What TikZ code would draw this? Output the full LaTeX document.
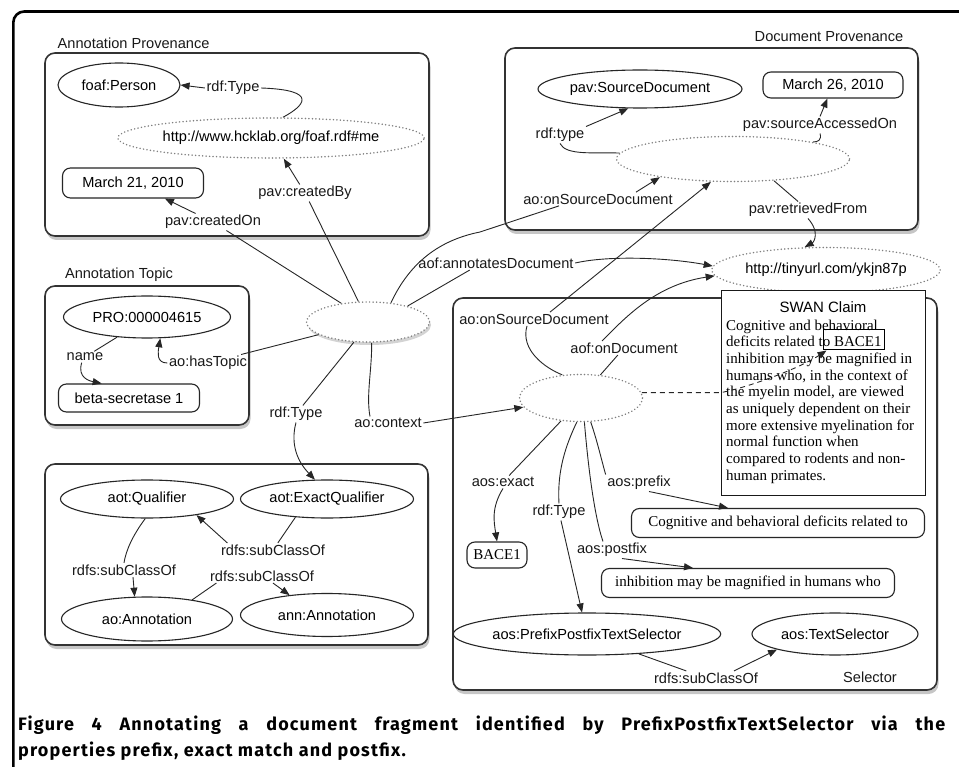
\documentclass[tikz,border=0pt]{standalone}
\usepackage{fontspec}
\setmainfont{Liberation Sans}
\newfontfamily\srf{Liberation Serif}
\newfontfamily\capf[LetterSpace=6.5]{Fira Sans}
\usetikzlibrary{shapes.geometric,arrows.meta,shadows,calc}
\begin{document}
\begin{tikzpicture}[x=1pt,y=-1pt,
  lbl/.style={font=\fontsize{14.6}{17}\selectfont, inner sep=1.5pt, text=black!90},
  grp/.style={draw=black!80, line width=1.6pt, rounded corners=10pt, fill=white, inner sep=0pt,
     drop shadow={shadow xshift=1.5pt,shadow yshift=-4pt,opacity=0.45}},
  cls/.style={ellipse, draw=black!85, line width=1.1pt, inner sep=0pt, fill=white, font=\fontsize{14.6}{17}\selectfont},
  inst/.style={ellipse, draw=black!50, line width=1.6pt, dash pattern=on 0.1pt off 3.4pt, line cap=round, inner sep=0pt, fill=white, font=\fontsize{14.6}{17}\selectfont},
  lit/.style={draw=black!85, line width=1.1pt, rounded corners=8pt, inner sep=0pt, fill=white, font=\fontsize{14.6}{17}\selectfont},
  litsrf/.style={lit, font=\srf\fontsize{15}{17}\selectfont},
  con/.style={line width=0.9pt, draw=black!85},
  arr/.style={con, -{Triangle[length=9pt,width=7pt]}},
]
\useasboundingbox (0,0) rectangle (959,767);
% outer frame
\draw[line width=2.6pt, rounded corners=11pt] (975,11.5) -- (13.3,11.5) -- (13.3,790);

% group boxes
\node[grp, minimum width=384pt, minimum height=183pt] (apbox) at (237,144.5) {};
\node[grp, minimum width=413pt, minimum height=182pt] (dpbox) at (711.5,139) {};
\node[grp, minimum width=204pt, minimum height=139pt] (atbox) at (147,355.5) {};
\node[grp, minimum width=383pt, minimum height=181pt] (clbox) at (236.5,554.5) {};
\node[grp, minimum width=484pt, minimum height=392pt] (selbox) at (695,494) {};

% titles
\node[lbl, anchor=west] (aptitle) at (56,43) {Annotation Provenance};
\node[lbl] (dptitle) at (829,37) {Document Provenance};
\node[lbl] (attitle) at (119,275) {Annotation Topic};
\node[lbl] (seltitle) at (870,677) {Selector};

% annotation provenance
\node[cls, minimum width=122pt, minimum height=44pt] (foafP) at (119,85) {foaf:Person};
\node[inst, minimum width=297pt, minimum height=40pt] (hck) at (271,138) {http://www.hcklab.org/foaf.rdf\#me};
\node[lit, minimum width=141pt, minimum height=30pt] (mar21) at (133,183) {March 21, 2010};
\node[lbl] (lrdf1) at (233,88) {rdf:Type};
\node[lbl] (lcby) at (305,193) {pav:createdBy};
\node[lbl] (lcon) at (213,222) {pav:createdOn};

% document provenance
\node[cls, minimum width=204pt, minimum height=38pt] (psd) at (640,89) {pav:SourceDocument};
\node[lit, minimum width=140pt, minimum height=26pt] (mar26) at (833,85) {March 26, 2010};
\node[inst, minimum width=233pt, minimum height=45pt] (srcdoc) at (733,159) {};
\node[lbl] (lrdf2) at (560,135) {rdf:type};
\node[lbl] (lsacc) at (820,125) {pav:sourceAccessedOn};
\node[lbl] (lsrc1) at (598,199) {ao:onSourceDocument};
\node[lbl] (lretr) at (808,210) {pav:retrievedFrom};

% annotation topic
\node[cls, minimum width=167pt, minimum height=42pt] (pro) at (147,317) {PRO:000004615};
\node[lit, minimum width=141pt, minimum height=28pt] (beta) at (129,398) {beta-secretase 1};
\node[lbl] (lname) at (85,357) {name};
\node[lbl] (lhas) at (208,363) {ao:hasTopic};

% central annotation
\node[inst, minimum width=123pt, minimum height=40pt, drop shadow={shadow xshift=1.5pt,shadow yshift=-3pt,opacity=0.35}] (ann) at (368,322) {};
\node[lbl] (lrdf3) at (296,414) {rdf:Type};
\node[lbl] (lctx) at (388,423) {ao:context};
\node[lbl] (lannd) at (496,263) {aof:annotatesDocument};

% class hierarchy
\node[cls, minimum width=173pt, minimum height=38pt] (aotQ) at (147,499) {aot:Qualifier};
\node[cls, minimum width=173pt, minimum height=38pt] (aotEQ) at (327,499) {aot:ExactQualifier};
\node[cls, minimum width=171pt, minimum height=44pt] (aoA) at (147,619) {ao:Annotation};
\node[cls, minimum width=173pt, minimum height=43pt] (annA) at (327,615) {ann:Annotation};
\node[lbl] (lsub1) at (273,550) {rdfs:subClassOf};
\node[lbl] (lsub2) at (124,570) {rdfs:subClassOf};
\node[lbl] (lsub3) at (262,576) {rdfs:subClassOf};

% selector
\node[inst, minimum width=222pt, minimum height=45pt] (tiny) at (826,270) {http://tinyurl.com/ykjn87p};
\node[inst, minimum width=123pt, minimum height=47pt] (ctx) at (581,398) {};
\node[draw=black!90, line width=1pt, fill=white, minimum width=204pt, minimum height=204pt, inner sep=0pt] (swan) at (823,393) {};
\node[font=\fontsize{15}{17}\selectfont, inner sep=0pt] (swant) at (823,307) {SWAN Claim};
\node[anchor=north west, inner sep=0pt, align=left, font=\srf\fontsize{15}{16.67}\selectfont] (swanp) at (726,319.5)
 {Cognitive and behavioral\\deficits related to BACE1\\inhibition may be magnified in\\humans who, in the context of\\the myelin model, are viewed\\as uniquely dependent on their\\more extensive myelination for\\normal function when\\compared to rodents and non-\\human primates.};
\node[draw=black, line width=1pt, minimum width=61pt, minimum height=20pt, inner sep=0pt] (bacebox) at (853.5,340) {};
\node[lbl] (lsrc2) at (534,319) {ao:onSourceDocument};
\node[lbl] (londoc) at (624,348) {aof:onDocument};
\node[lbl] (lexact) at (503,482) {aos:exact};
\node[litsrf, minimum width=60pt, minimum height=26pt] (bace1) at (497,555) {BACE1};
\node[lbl] (lrdf4) at (559,512) {rdf:Type};
\node[lbl] (lprefix) at (639,483) {aos:prefix};
\node[lbl] (lpostfix) at (612,550) {aos:postfix};
\node[litsrf, minimum width=293pt, minimum height=29pt] (cog) at (778,523) {Cognitive and behavioral deficits related to};
\node[litsrf, minimum width=293pt, minimum height=29pt] (inh) at (748,583) {inhibition may be magnified in humans who};
\node[cls, minimum width=264pt, minimum height=42pt] (ppts) at (587,634) {aos:PrefixPostfixTextSelector};
\node[cls, minimum width=166pt, minimum height=42pt] (ts) at (835,634) {aos:TextSelector};
\node[lbl] (lsub4) at (706,678) {rdfs:subClassOf};

% ---- connectors ----
% annotation provenance
\draw[con] (hck.60) .. controls (304,106) and (320,90) .. (lrdf1.east);
\draw[arr] (lrdf1.west) -- (foafP.east);
\draw[con] (ann.115) -- (lcby);
\draw[arr] (lcby) -- (hck);
\draw[con] (ann.145) -- (lcon);
\draw[arr] (lcon) -- (mar21);
% central
\draw[con] (ann.40) .. controls (410,262) and (440,240) .. (480,232) -- (lsrc1.-170);
\draw[arr] ([xshift=38pt]lsrc1.north) -- (srcdoc.-166);
\draw[con] (ann.22) -- (lannd.-165);
\draw[arr] (lannd.east) .. controls (610,255) and (670,258) .. (tiny.178);
\draw[con] (lhas) -- (ann);
\draw[arr] (lhas.west) .. controls (156,363) and (158,352) .. (pro.-58);
\draw[con] (pro.-146) -- (lname);
\draw[arr] (lname.-120) .. controls (77,378) and (90,381) .. (beta.152);
\draw[con] (ann.-125) -- (lrdf3);
\draw[arr] (lrdf3.south) .. controls (290,445) and (298,462) .. (aotEQ.122);
\draw[con] (ann.-80) .. controls (372,370) and (366,395) .. ([xshift=-18pt]lctx.north);
\draw[arr] (lctx.east) -- (ctx);
% class hierarchy
\draw[con] (aotEQ.-150) -- (lsub1);
\draw[arr] ([xshift=8pt]lsub1.north west) -- (aotQ.-18);
\draw[con] (aotQ.-95) .. controls (133,535) and (126,550) .. (lsub2.north);
\draw[arr] ([xshift=9pt]lsub2.south) -- (aoA.119);
\draw[con] (aoA.23) -- ([xshift=8pt]lsub3.south west);
\draw[arr] ([xshift=11pt]lsub3.south) -- (annA.152);
% document provenance
\draw[con] (srcdoc.177) .. controls (595,152) and (566,156) .. (lrdf2.south);
\draw[arr] (lrdf2.north east) -- (psd.-121);
\draw[con] (srcdoc.12) .. controls (818,142) and (822,140) .. (lsacc.south);
\draw[arr] (lsacc.north) -- (mar26);
\draw[con] (srcdoc.-28) -- (lretr);
\draw[arr] (lretr.south) .. controls (820,232) and (814,242) .. (tiny.133);
% selector
\draw[con] (ctx.129) .. controls (545,368) and (520,350) .. ([xshift=-7pt]lsrc2.south);
\draw[arr] ([xshift=16pt]lsrc2.north) -- (srcdoc.-134);
\draw[con] (ctx.50) -- (londoc);
\draw[arr] ([xshift=-22pt]londoc.north) .. controls (625,318) and (655,285) .. (tiny.183);
\draw[con] (ctx.-131) -- (lexact);
\draw[arr] (lexact.south) .. controls (491,508) and (494,522) .. (bace1.north);
\draw[con] (ctx.-100) .. controls (566,445) and (557,470) .. (lrdf4.north);
\draw[arr] (lrdf4) -- (ppts);
\draw[con] (ctx.-82) .. controls (588,465) and (594,515) .. ([xshift=-9pt]lpostfix.north);
\draw[arr] ([xshift=10pt]lpostfix.south) -- ([xshift=-55pt]inh.north);
\draw[con] (ctx.-68) .. controls (597,440) and (602,462) .. (lprefix.north west);
\draw[arr] ([xshift=10pt]lprefix.south) -- ([xshift=-50pt]cog.north);
\draw[con] (ppts.-21) -- (lsub4);
\draw[arr] ([xshift=28pt]lsub4.north) -- (ts.-165);
\draw[arr, dash pattern=on 5pt off 4pt] (ctx.5) -- (swan.west |- ctx.5) .. controls (750,387) and (800,368) .. ([xshift=4pt]bacebox.south west);

% caption
\node[anchor=base west, inner sep=0pt, font=\capf\bfseries\fontsize{18}{22}\selectfont] (cap1) at (18,730)
 {\makebox[927pt][s]{Figure 4 Annotating a document fragment identified by PrefixPostfixTextSelector via the}};
\node[anchor=base west, inner sep=0pt, font=\capf\bfseries\fontsize{18}{22}\selectfont] (cap2) at (18,756)
 {properties prefix, exact match and postfix.};
\end{tikzpicture}
\end{document}
